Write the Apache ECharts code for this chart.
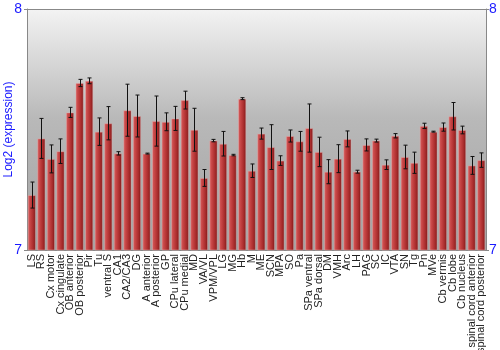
<!DOCTYPE html>
<html><head><meta charset="utf-8">
<script src="https://cdn.jsdelivr.net/npm/echarts@6/dist/echarts.min.js"></script>
<style>html,body{margin:0;padding:0;background:#fff}#c{width:500px;height:350px}</style>
</head><body><div id="c"></div>
<script>
const categories = ["LS","RS","Cx motor","Cx cingulate","OB anterior","OB posterior","Pir","Tu","ventral S","CA1","CA2/CA3","DG","A anterior","A posterior","GP","CPu lateral","CPu medial","MD","VA/VL","VPM/VPL","LG","MG","Hb","M","ME","SCN","MPA","SO","Pa","SPa ventral","SPa dorsal","DM","VMH","Arc","LH","PAG","SC","IC","VTA","SN","Tg","Pn","MVe","Cb vermis","Cb lobe","Cb nucleus","spinal cord anterior","spinal cord posterior"];
const values = [7.228,7.463,7.378,7.410,7.571,7.693,7.702,7.491,7.526,7.401,7.580,7.556,7.400,7.535,7.532,7.546,7.622,7.499,7.299,7.454,7.441,7.394,7.628,7.329,7.483,7.427,7.371,7.473,7.451,7.506,7.407,7.325,7.379,7.461,7.325,7.436,7.454,7.354,7.474,7.386,7.362,7.515,7.491,7.510,7.555,7.498,7.351,7.373];
const errors = [0.054,0.083,0.058,0.051,0.021,0.015,0.012,0.057,0.069,0.007,0.108,0.087,0.002,0.104,0.037,0.050,0.037,0.089,0.035,0.005,0.051,0.003,0.004,0.028,0.023,0.093,0.020,0.025,0.041,0.100,0.061,0.050,0.058,0.033,0.006,0.025,0.006,0.020,0.009,0.049,0.044,0.011,0.002,0.017,0.057,0.016,0.037,0.030];
const yTicks = [7, 8];

const chart = echarts.init(document.getElementById('c'), null, {renderer:'canvas'});
const blue = '#1a1aff';
const font = 'Liberation Sans, Arial, sans-serif';
const errData = values.map((v,i)=>[i, v-errors[i], v+errors[i]]);
chart.setOption({
  animation:false,
  grid:{left:27,right:14,top:9,bottom:100,containLabel:false,outerBoundsMode:'none',show:true,borderWidth:0,
    backgroundColor:new echarts.graphic.LinearGradient(0,0,0,1,[
      {offset:0,color:'#f3f3f3'},{offset:0.45,color:'#b9b9b9'},{offset:1,color:'#a2a2a2'}])},
  xAxis:{type:'category',data:categories,
    axisLine:{show:false},axisTick:{show:false},
    axisLabel:{rotate:90,interval:0,fontSize:11,color:'#222',fontFamily:font,margin:4}},
  yAxis:[
    {type:'value',min:yTicks[0],max:yTicks[1],interval:1,position:'left',
     name:'Log2 (expression)',nameLocation:'middle',nameGap:12,nameMoveOverlap:false,
     nameTextStyle:{color:blue,fontSize:12,fontFamily:font},
     axisLine:{show:true,lineStyle:{color:'#888'}},
     axisTick:{show:true,length:3,lineStyle:{color:'#888'}},
     splitLine:{show:true,lineStyle:{color:'#888'}},
     axisLabel:{color:blue,fontSize:14,margin:5,fontFamily:font}},
    {type:'value',min:yTicks[0],max:yTicks[1],interval:1,position:'right',
     axisLine:{show:true,lineStyle:{color:'#888'}},
     axisTick:{show:true,length:3,lineStyle:{color:'#888'}},
     splitLine:{show:false},
     axisLabel:{color:blue,fontSize:14,margin:3,fontFamily:font}}
  ],
  series:[
    {type:'bar',data:values,barCategoryGap:'14%',
     itemStyle:{
       color:new echarts.graphic.LinearGradient(0,0,1,0,[
         {offset:0,color:'#d86060'},{offset:0.35,color:'#c44242'},{offset:0.75,color:'#a22828'},{offset:1,color:'#6e1414'}]),
       borderColor:'rgba(230,170,170,0.45)',borderWidth:1}},
    {type:'custom',data:errData,z:5,
     renderItem:function(params,api){
       const x=api.value(0);
       const lo=api.coord([x,api.value(1)]);
       const hi=api.coord([x,api.value(2)]);
       const cx=Math.round(lo[0])+0.5;
       const w=2;
       const st={stroke:'#111',lineWidth:1};
       return {type:'group',children:[
         {type:'line',shape:{x1:cx,y1:hi[1],x2:cx,y2:lo[1]},style:st},
         {type:'line',shape:{x1:cx-w,y1:hi[1],x2:cx+w,y2:hi[1]},style:st},
         {type:'line',shape:{x1:cx-w,y1:lo[1],x2:cx+w,y2:lo[1]},style:st}
       ]};
     }}
  ]
});
</script></body></html>
